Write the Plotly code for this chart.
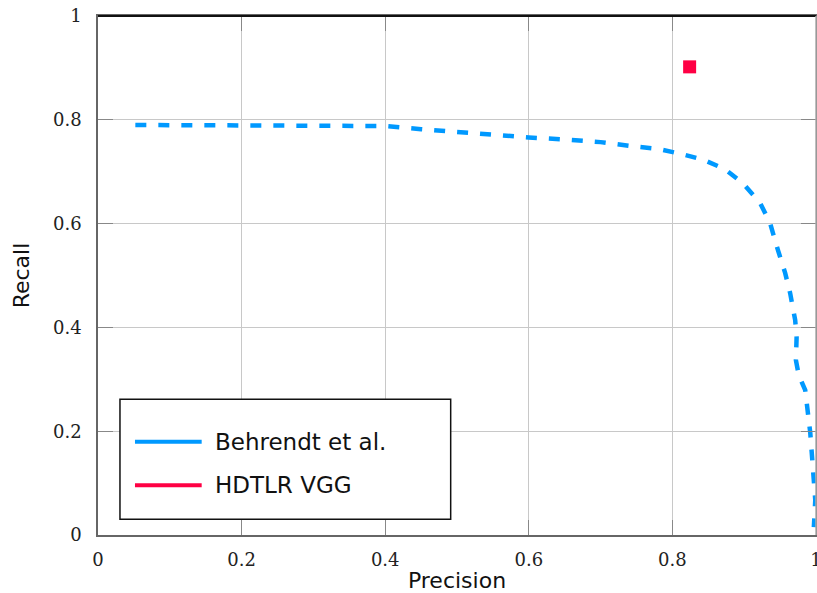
import plotly.graph_objects as go

# Data
behrendt_precision = [0.052, 0.40, 0.45, 0.50, 0.55, 0.60, 0.65, 0.70, 0.745, 0.78, 0.813, 0.843,
                      0.873, 0.898, 0.922, 0.936, 0.947, 0.957, 0.964, 0.971, 0.973, 0.972, 0.976,
                      0.985, 0.992, 0.996, 0.999, 0.997]
behrendt_recall = [0.790, 0.788, 0.782, 0.776, 0.771, 0.766, 0.762, 0.757, 0.749, 0.744, 0.734, 0.723,
                   0.705, 0.678, 0.640, 0.601, 0.549, 0.505, 0.466, 0.414, 0.381, 0.337, 0.308,
                   0.279, 0.197, 0.125, 0.067, 0.015]
hdtlr_precision = [0.824]
hdtlr_recall = [0.902]
tick_vals = [0, 0.2, 0.4, 0.6, 0.8, 1]
tick_text = ["0", "0.2", "0.4", "0.6", "0.8", "1"]
series_names = ["Behrendt et al.", "HDTLR VGG"]

BLUE = "#0099ff"
RED = "#ff0044"

fig = go.Figure()
fig.add_trace(go.Scatter(x=behrendt_precision, y=behrendt_recall, mode="lines",
                         name=series_names[0], showlegend=False,
                         line=dict(color=BLUE, width=4.5, dash="11px,12px")))
fig.add_trace(go.Scatter(x=hdtlr_precision, y=hdtlr_recall, mode="markers",
                         name=series_names[1], showlegend=False,
                         marker=dict(color=RED, symbol="square", size=13, line=dict(width=0))))

tickfont = dict(family="DejaVu Serif", size=18, color="#222")
titlefont = dict(family="DejaVu Sans", size=22, color="#111")
legendfont = dict(family="DejaVu Sans", size=23, color="#111")

fig.update_xaxes(range=[0, 1], tickvals=tick_vals, ticktext=tick_text, tickfont=tickfont,
                 showgrid=True, gridcolor="#c8c8c8", gridwidth=1, zeroline=False,
                 showline=True, linecolor="#666", linewidth=1.5, mirror="ticks",
                 ticks="inside", ticklen=15, tickcolor="#888", tickwidth=1,
                 ticklabelstandoff=8, automargin=False, ticklabeloverflow="allow",
                 title=dict(text="Precision", font=titlefont, standoff=3))
fig.update_yaxes(range=[0, 1], tickvals=tick_vals, ticktext=tick_text, tickfont=tickfont,
                 showgrid=True, gridcolor="#c8c8c8", gridwidth=1, zeroline=False,
                 showline=True, linecolor="#666", linewidth=1.5, mirror="ticks",
                 ticks="inside", ticklen=15, tickcolor="#888", tickwidth=1,
                 ticklabelstandoff=11, automargin=False, ticklabeloverflow="allow",
                 title=dict(text="Recall", font=titlefont, standoff=17))

shapes = [
    # top border (black) and right border (light gray)
    dict(type="line", xref="paper", yref="paper", x0=0, x1=1, y0=1, y1=1,
         line=dict(color="#111", width=2)),
    dict(type="line", xref="paper", yref="paper", x0=1, x1=1, y0=0, y1=1,
         line=dict(color="#aaa", width=1.5)),
    # legend box
    dict(type="rect", xref="paper", yref="paper", x0=0.0306, x1=0.4912, y0=0.0302, y1=0.2615,
         line=dict(color="#111", width=1.5), fillcolor="white", layer="above"),
    dict(type="line", xref="paper", yref="paper", x0=0.0515, x1=0.1444, y0=0.1798, y1=0.1798,
         line=dict(color=BLUE, width=4)),
    dict(type="line", xref="paper", yref="paper", x0=0.0515, x1=0.1444, y0=0.0958, y1=0.0958,
         line=dict(color=RED, width=4)),
]
annotations = [
    dict(text=series_names[0], xref="paper", yref="paper", x=0.1606, y=0.1798,
         xanchor="left", yanchor="middle", showarrow=False, font=legendfont),
    dict(text=series_names[1], xref="paper", yref="paper", x=0.1606, y=0.0958,
         xanchor="left", yanchor="middle", showarrow=False, font=legendfont),
]

fig.update_layout(width=817, height=593, margin=dict(l=98, r=1, t=16, b=58),
                  paper_bgcolor="white", plot_bgcolor="white",
                  shapes=shapes, annotations=annotations, showlegend=False)

# remove the default page margin so the figure fills the window exactly
fig.write_html("out.html", config={"displayModeBar": False},
               post_script="document.body.style.margin='0';document.body.style.overflow='hidden';")
